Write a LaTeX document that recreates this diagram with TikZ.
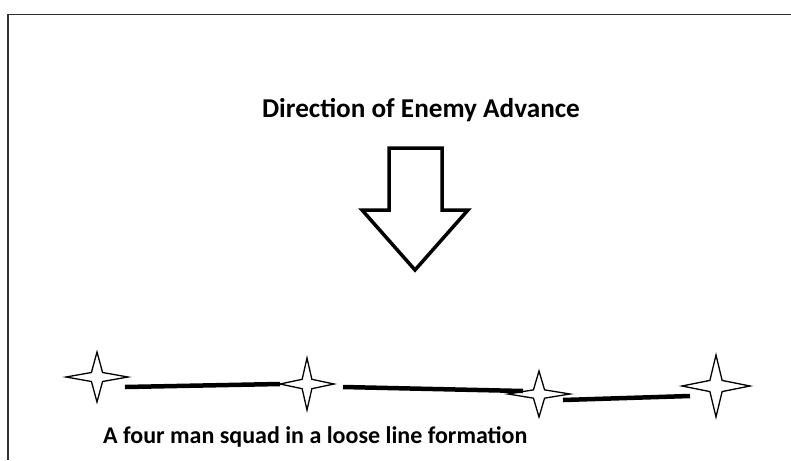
\documentclass[tikz,border=0pt]{standalone}
\usepackage{fontspec}
\setmainfont{Carlito}
\begin{document}
\begin{tikzpicture}[x=1pt,y=-1pt,
  frame/.style={draw=black!80,line width=1.5pt},
  bigarrow/.style={draw=black,line width=3.5pt,line join=miter,fill=white},
  starpic/.pic={\draw[line width=1.3pt] (-1,0) -- (-0.18,-0.18) -- (0,-1) -- (0.18,-0.18) -- (1,0) -- (0.18,0.18) -- (0,1) -- (-0.18,0.18) -- cycle;},
  squadline/.style={draw=black,line width=4.5pt},
  label/.style={font=\bfseries\fontsize{#1}{#1}\selectfont,inner sep=0pt}]
\useasboundingbox (0,0) rectangle (791,460);
\draw[frame] (8,460) -- (8,14.5) -- (791,14.5);
\node[label=27.2] (title) at (421,110) {Direction of Enemy Advance};
\draw[bigarrow] (389,148) -- (442,148) -- (442,210) -- (468,210) -- (415,270) -- (362,210) -- (389,210) -- cycle;
\coordinate (s1) at (97,377);
\coordinate (s2) at (307,384);
\coordinate (s3) at (539,394);
\coordinate (s4) at (716,386);
\pic[xscale=31,yscale=25] at (s1) {starpic};
\pic[xscale=27,yscale=26] at (s2) {starpic};
\pic[xscale=31,yscale=23] at (s3) {starpic};
\pic[xscale=34,yscale=31] at (s4) {starpic};
\coordinate (a1) at (125,387); \coordinate (b1) at (280,384);
\coordinate (a2) at (343,387); \coordinate (b2) at (523,391);
\coordinate (a3) at (563,400); \coordinate (b3) at (690,396);
\draw[squadline] (a1) -- (b1);
\draw[squadline] (a2) -- (b2);
\draw[squadline] (a3) -- (b3);
\node[label=24,anchor=west] (caption) at (103,437) {A four man squad in a loose line formation};
\end{tikzpicture}
\end{document}
